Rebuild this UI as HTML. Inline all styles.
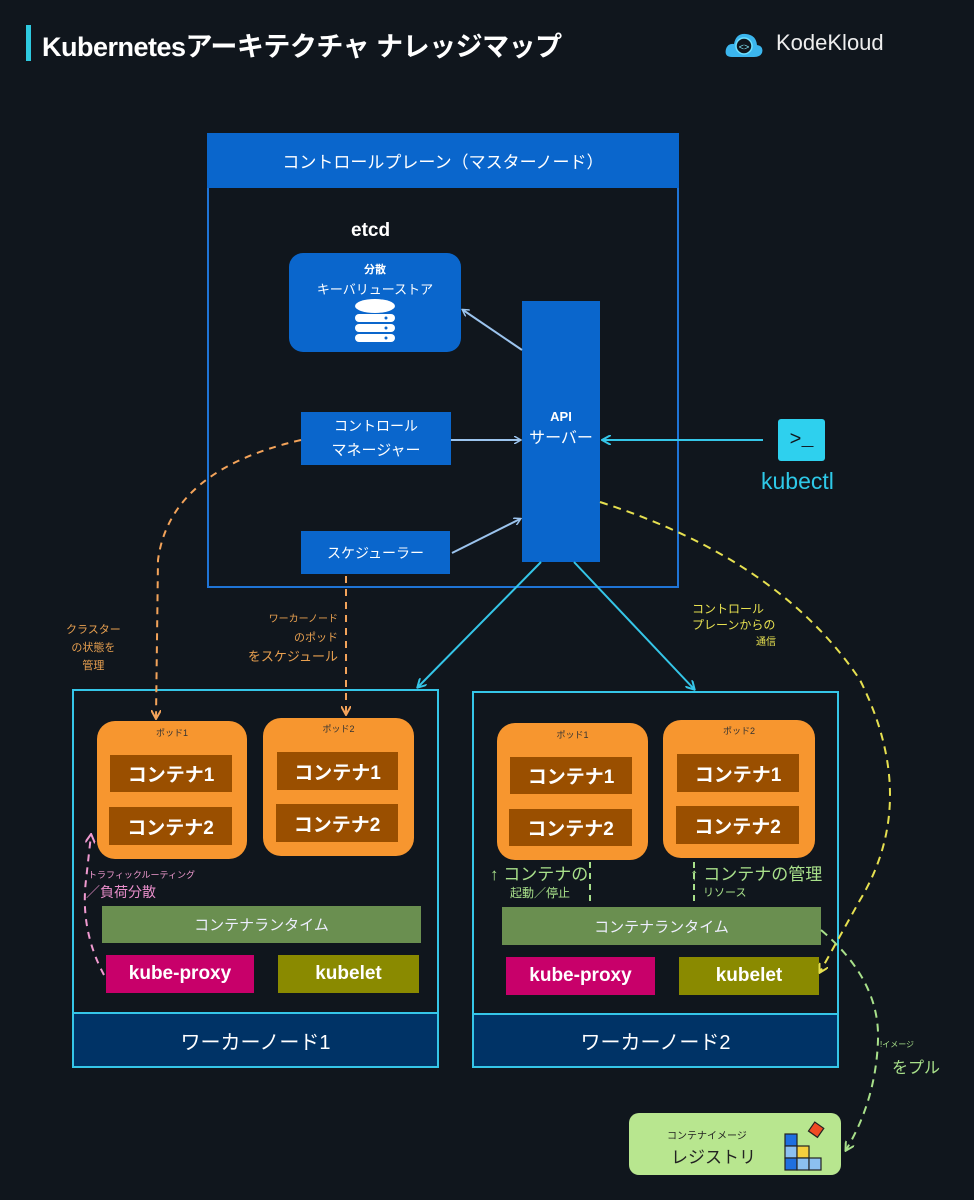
<!DOCTYPE html>
<html><head><meta charset="utf-8"><style>
*{margin:0;padding:0;box-sizing:border-box}
body{width:974px;height:1200px;background:#10161d;position:relative;overflow:hidden;font-family:"Liberation Sans","Noto Sans CJK JP",sans-serif;color:#fff}
.a{position:absolute}
.c{display:flex;align-items:center;justify-content:center;text-align:center}
.blue{background:#0a66cc}
.pod{background:#f7962f;border-radius:18px}
.ct{background:#9a4f00;font-size:19px;font-weight:bold;color:#fff}
.rt{background:#6a8f50;font-size:15px;color:#eef}
.kp{background:#c8006a;font-size:19px;font-weight:bold}
.kl{background:#8a8a00;font-size:19px;font-weight:bold}
.wn{border:2px solid #35c6e8}
.band{background:#003366;border-top:2px solid #35c6e8;font-size:20px}
.pl{font-size:9px;color:#333}
</style></head><body>
<div class="a" style="left:26px;top:25px;width:5px;height:36px;background:#2ec9df"></div>
<div class="a" style="left:42px;top:25px;font-size:27px;font-weight:bold;color:#fff;letter-spacing:-0.5px">Kubernetesアーキテクチャ ナレッジマップ</div>
<svg class="a" style="left:724px;top:30px" width="40" height="30"><path d="M8 27 Q0 27 2 19 Q4 13 10 14 Q12 3 22 4 Q32 5 33 15 Q40 16 38 23 Q36 27 30 27Z" fill="#3bb6ee"/><circle cx="20" cy="16" r="8" fill="#10161d" stroke="#6ee0ff" stroke-width="1.5"/><text x="20" y="20" font-size="9" fill="#8ef" text-anchor="middle">&lt;&gt;</text></svg>
<div class="a" style="left:776px;top:30px;font-size:22px;color:#eee">KodeKloud</div>

<div class="a" style="left:207px;top:133px;width:472px;height:455px;border:2px solid #1f74d6"></div>
<div class="a c blue" style="left:207px;top:133px;width:472px;height:55px;font-size:17px">コントロールプレーン（マスターノード）</div>
<div class="a" style="left:351px;top:220px;font-size:19px;font-weight:bold">etcd</div>
<div class="a blue" style="left:289px;top:253px;width:172px;height:99px;border-radius:14px;text-align:center">
<div style="font-size:11px;font-weight:bold;margin-top:8px">分散</div>
<div style="font-size:13px;margin-top:2px">キーバリューストア</div>
<svg width="42" height="46" style="margin-top:0px"><g fill="#fff"><ellipse cx="21" cy="8" rx="20" ry="7"/><rect x="1" y="16" width="40" height="8" rx="4"/><rect x="1" y="26" width="40" height="8" rx="4"/><rect x="1" y="36" width="40" height="8" rx="4"/></g><g fill="#0a66cc"><circle cx="32" cy="20" r="1.5"/><circle cx="32" cy="30" r="1.5"/><circle cx="32" cy="40" r="1.5"/></g></svg>
</div>
<div class="a blue" style="left:301px;top:412px;width:150px;height:53px;text-align:center;font-size:14px;line-height:24px;padding-top:2px">コントロール<br><span style="font-size:15px">マネージャー</span></div>
<div class="a c blue" style="left:301px;top:531px;width:149px;height:43px;font-size:14px">スケジューラー</div>
<div class="a blue" style="left:522px;top:301px;width:78px;height:261px;text-align:center;padding-top:108px;font-size:13px;font-weight:bold">API<br><span style="font-size:16px;font-weight:normal;line-height:30px">サーバー</span></div>
<div class="a c" style="left:778px;top:419px;width:47px;height:42px;background:#2ed0ee;border-radius:3px;color:#10161d;font-size:20px;font-family:'Liberation Mono',monospace">&gt;_</div>
<div class="a" style="left:761px;top:468px;font-size:23px;color:#2ec9e8">kubectl</div>

<!-- worker 1 -->
<div class="a wn" style="left:72px;top:689px;width:367px;height:379px"></div>
<div class="a c band" style="left:72px;top:1012px;width:367px;height:56px;border:2px solid #35c6e8">ワーカーノード1</div>
<div class="a pod" style="left:97px;top:721px;width:150px;height:138px"><div class="pl" style="text-align:center;margin-top:5px">ポッド1</div></div>
<div class="a c ct" style="left:110px;top:755px;width:122px;height:37px">コンテナ1</div>
<div class="a c ct" style="left:109px;top:807px;width:123px;height:38px">コンテナ2</div>
<div class="a pod" style="left:263px;top:718px;width:151px;height:138px"><div class="pl" style="text-align:center;margin-top:4px">ポッド2</div></div>
<div class="a c ct" style="left:277px;top:752px;width:121px;height:38px">コンテナ1</div>
<div class="a c ct" style="left:276px;top:804px;width:122px;height:38px">コンテナ2</div>
<div class="a c rt" style="left:102px;top:906px;width:319px;height:37px">コンテナランタイム</div>
<div class="a c kp" style="left:106px;top:955px;width:148px;height:38px">kube-proxy</div>
<div class="a c kl" style="left:278px;top:955px;width:141px;height:38px">kubelet</div>
<div class="a" style="left:88px;top:868px;font-size:9px;color:#f09ad0">トラフィックルーティング</div>
<div class="a" style="left:86px;top:882px;font-size:14px;color:#e98ecb">／負荷分散</div>

<!-- worker 2 -->
<div class="a wn" style="left:472px;top:691px;width:367px;height:377px"></div>
<div class="a c band" style="left:472px;top:1013px;width:367px;height:55px;border:2px solid #35c6e8">ワーカーノード2</div>
<div class="a pod" style="left:497px;top:723px;width:151px;height:137px"><div class="pl" style="text-align:center;margin-top:5px">ポッド1</div></div>
<div class="a c ct" style="left:510px;top:757px;width:122px;height:37px">コンテナ1</div>
<div class="a c ct" style="left:509px;top:809px;width:123px;height:37px">コンテナ2</div>
<div class="a pod" style="left:663px;top:720px;width:152px;height:138px"><div class="pl" style="text-align:center;margin-top:4px">ポッド2</div></div>
<div class="a c ct" style="left:677px;top:754px;width:122px;height:38px">コンテナ1</div>
<div class="a c ct" style="left:676px;top:806px;width:123px;height:38px">コンテナ2</div>
<div class="a c rt" style="left:502px;top:907px;width:319px;height:38px">コンテナランタイム</div>
<div class="a c kp" style="left:506px;top:957px;width:149px;height:38px">kube-proxy</div>
<div class="a c kl" style="left:679px;top:957px;width:140px;height:38px">kubelet</div>
<div class="a" style="left:490px;top:860px;font-size:17px;color:#a8e08a">↑ コンテナの</div>
<div class="a" style="left:510px;top:884px;font-size:12px;color:#a8e08a">起動／停止</div>
<div class="a" style="left:690px;top:860px;font-size:17px;color:#a8e08a">↑ コンテナの管理</div>
<div class="a" style="left:703px;top:884px;font-size:11px;color:#a8e08a">リソース</div>

<!-- labels -->
<div class="a" style="left:66px;top:621px;font-size:11px;color:#e8a050;text-align:center;line-height:18px">クラスター<br>の状態を<br>管理</div>
<div class="a" style="left:236px;top:611px;font-size:10px;color:#e8a050;text-align:right;line-height:18px;width:102px">ワーカーノード<br><span style="font-size:11px">のポッド</span><br><span style="font-size:13px">をスケジュール</span></div>
<div class="a" style="left:692px;top:601px;font-size:12px;color:#e6e050;line-height:16px">コントロール<br>プレーンからの<br><span style="font-size:10px;margin-left:64px">通信</span></div>
<div class="a" style="left:880px;top:1039px;font-size:8px;color:#a8e08a">!イメージ</div>
<div class="a" style="left:892px;top:1054px;font-size:16px;color:#a8e08a">をプル</div>

<div class="a" style="left:629px;top:1113px;width:212px;height:62px;background:#b8e68f;border-radius:10px;color:#222">
<div style="position:absolute;left:38px;top:14px;font-size:10px">コンテナイメージ</div>
<div style="position:absolute;left:42px;top:30px;font-size:17px">レジストリ</div>
<svg style="position:absolute;left:154px;top:8px" width="45" height="50"><g stroke="#222" stroke-width="1.2"><rect x="2" y="13" width="12" height="12" fill="#1e6fe0"/><rect x="2" y="25" width="12" height="12" fill="#8cc0f0"/><rect x="14" y="25" width="12" height="12" fill="#f6cf3e"/><rect x="2" y="37" width="12" height="12" fill="#1e6fe0"/><rect x="14" y="37" width="12" height="12" fill="#8cc0f0"/><rect x="26" y="37" width="12" height="12" fill="#8cc0f0"/><rect x="28" y="3" width="11" height="11" fill="#f04a24" transform="rotate(35 33 8)"/></g></svg>
</div>

<svg class="a" style="left:0;top:0" width="974" height="1200">
<defs>
<marker id="mb" markerWidth="8" markerHeight="8" refX="6" refY="4" orient="auto" markerUnits="userSpaceOnUse"><path d="M0 0L7 4L0 8" fill="none" stroke="#9cc4ee" stroke-width="1.5"/></marker>
<marker id="mc" markerWidth="10" markerHeight="10" refX="8" refY="5" orient="auto" markerUnits="userSpaceOnUse"><path d="M0 0L9 5L0 10" fill="none" stroke="#35c6e8" stroke-width="2"/></marker>
<marker id="mo" markerWidth="10" markerHeight="10" refX="8" refY="5" orient="auto" markerUnits="userSpaceOnUse"><path d="M0 0L9 5L0 10" fill="none" stroke="#f3a35a" stroke-width="2"/></marker>
<marker id="my" markerWidth="10" markerHeight="10" refX="8" refY="5" orient="auto" markerUnits="userSpaceOnUse"><path d="M0 0L9 5L0 10" fill="none" stroke="#e6e050" stroke-width="2"/></marker>
<marker id="mg" markerWidth="10" markerHeight="10" refX="8" refY="5" orient="auto" markerUnits="userSpaceOnUse"><path d="M0 0L9 5L0 10" fill="none" stroke="#a8e08a" stroke-width="2"/></marker>
<marker id="mp" markerWidth="10" markerHeight="10" refX="8" refY="5" orient="auto" markerUnits="userSpaceOnUse"><path d="M0 0L9 5L0 10" fill="none" stroke="#f09ad0" stroke-width="2"/></marker>
</defs>
<g stroke-width="2" fill="none">
<line x1="522" y1="350" x2="463" y2="310" stroke="#9cc4ee" marker-end="url(#mb)"/>
<line x1="451" y1="440" x2="520" y2="440" stroke="#9cc4ee" marker-end="url(#mb)"/>
<line x1="452" y1="553" x2="520" y2="519" stroke="#9cc4ee" marker-end="url(#mb)"/>
<line x1="763" y1="440" x2="603" y2="440" stroke="#35c6e8" marker-end="url(#mc)"/>
<line x1="541" y1="562" x2="418" y2="687" stroke="#35c6e8" marker-end="url(#mc)"/>
<line x1="574" y1="562" x2="694" y2="689" stroke="#35c6e8" marker-end="url(#mc)"/>
<path d="M301 440 Q170 470 158 560 L156 718" stroke="#f3a35a" stroke-dasharray="7 6" marker-end="url(#mo)"/>
<line x1="346" y1="576" x2="346" y2="714" stroke="#f3a35a" stroke-dasharray="7 6" marker-end="url(#mo)"/>
<path d="M600 502 Q780 560 860 680 Q920 800 860 900 L820 972" stroke="#e6e050" stroke-dasharray="8 6" marker-end="url(#my)"/>
<path d="M821 930 Q880 980 878 1040 Q876 1100 846 1150" stroke="#a8e08a" stroke-dasharray="8 6" marker-end="url(#mg)"/>
<line x1="590" y1="862" x2="590" y2="906" stroke="#a8e08a" stroke-dasharray="6 5"/>
<line x1="694" y1="862" x2="694" y2="906" stroke="#a8e08a" stroke-dasharray="6 5"/>
<path d="M104 975 Q80 930 86 880 L91 835" stroke="#f09ad0" stroke-dasharray="7 6" marker-end="url(#mp)"/>
</g>
</svg>
</body></html>
